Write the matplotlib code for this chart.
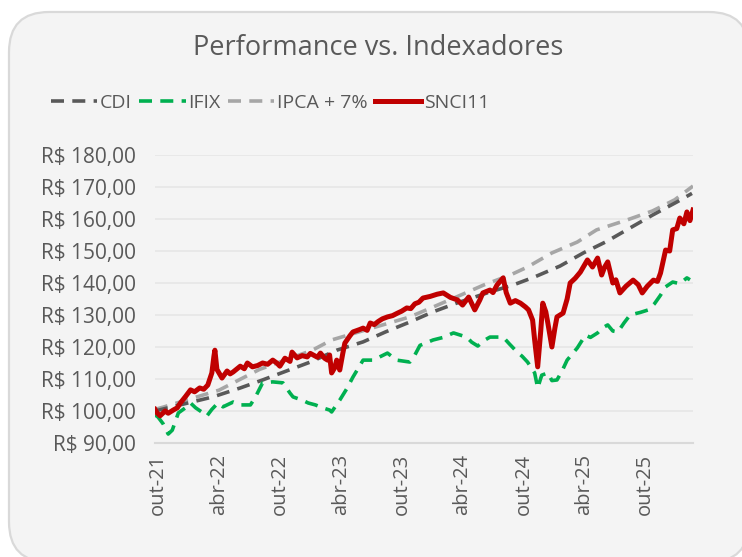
import matplotlib
matplotlib.use("Agg")
import matplotlib.pyplot as plt
from matplotlib.patches import FancyBboxPatch
from matplotlib.transforms import IdentityTransform

plt.rcParams['font.family'] = ['Open Sans', 'DejaVu Sans']

# x = months since out-21
cdi_x = [-0.3, 5.4, 8.1, 10.3, 15.0, 17.6, 20.2, 22.4, 24.8, 27.1, 29.4, 32.7,
         35.0, 37.1, 39.6, 41.9, 44.2, 46.5, 48.7, 51.1, 52.6]
cdi_y = [100.0, 104.4, 107.2, 109.7, 115.3, 119.0, 121.6, 124.7, 127.8, 131.0, 133.7, 137.2,
         139.4, 141.9, 145.3, 149.4, 153.0, 157.2, 161.2, 165.3, 168.0]

ipca_x = [-0.3, 0.5, 6.0, 10.0, 15.2, 17.1, 24.8, 27.1, 29.8, 32.1, 34.7, 36.4,
          38.8, 41.3, 43.2, 46.2, 48.7, 50.9, 52.7]
ipca_y = [100.5, 101.2, 106.5, 113.0, 119.0, 122.2, 129.4, 132.5, 136.2, 139.4, 142.5, 145.0,
          149.4, 152.8, 156.6, 159.7, 162.5, 166.0, 170.3]

ifix_x = [-0.3, 0.0, 0.5, 1.0, 1.4, 2.0, 2.7, 3.2, 3.7, 4.3, 4.8, 5.3, 5.9, 6.4, 7.4, 8.1,
          9.1, 9.6, 10.3, 11.3, 12.3, 13.0, 13.3, 14.2, 14.8, 15.5, 16.2, 16.9, 17.1, 17.9,
          18.6, 19.2, 20.2, 21.2, 21.9, 22.6, 23.5, 24.8, 25.3, 25.8, 27.1, 28.1, 29.1, 30.4,
          30.9, 31.5, 32.1, 32.7, 34.0, 34.6, 35.2, 35.9, 36.4, 37.1, 37.4, 37.8, 38.4, 38.8,
          39.3, 39.8, 40.3, 41.3, 42.1, 42.6, 43.3, 43.8, 44.3, 44.8, 45.3, 45.9, 46.5, 47.5,
          48.3, 48.9, 49.5, 50.0, 50.7, 51.4, 52.1, 52.4]
ifix_y = [98.8, 98.1, 96.0, 92.8, 94.0, 99.4, 101.0, 102.5, 101.0, 99.7, 98.4, 100.5, 102.5,
          101.3, 102.8, 101.9, 101.9, 104.4, 108.8, 109.1, 108.8, 105.6, 104.4, 103.4, 102.5,
          101.9, 101.0, 100.3, 99.7, 103.4, 107.0, 110.6, 115.9, 115.9, 117.0, 118.1, 115.9,
          115.3, 117.5, 120.5, 122.2, 123.0, 124.4, 123.1, 121.5, 120.3, 122.0, 123.1, 123.1,
          121.0, 119.0, 117.0, 115.3, 111.9, 107.2, 111.2, 111.9, 109.5, 109.7, 112.5, 115.9,
          119.7, 123.7, 123.0, 124.4, 126.0, 126.9, 125.0, 124.7, 127.5, 130.0, 130.8, 131.6,
          133.5, 136.2, 138.8, 140.3, 139.8, 141.6, 141.0]

sn_x = [-0.3, -0.1, 0.2, 0.7, 1.0, 1.5, 1.9, 2.2, 2.7, 3.2, 3.6, 4.1, 4.5, 4.9, 5.3, 5.5,
        5.6, 5.8, 6.3, 6.8, 7.1, 7.4, 8.1, 8.5, 8.8, 9.3, 9.8, 10.3, 10.8, 11.3, 11.7, 12.0,
        12.5, 13.0, 13.2, 13.7, 14.2, 14.7, 15.0, 15.3, 15.7, 16.0, 16.4, 16.7, 16.9, 17.1,
        17.4, 17.6, 17.9, 18.2, 18.4, 18.9, 19.2, 19.9, 20.2, 20.6, 20.9, 21.3, 21.7, 22.1,
        22.6, 23.1, 23.6, 24.0, 24.5, 24.9, 25.3, 25.7, 26.1, 26.8, 27.5, 28.1, 28.8, 29.5,
        30.0, 30.6, 31.2, 31.7, 32.0, 32.7, 33.0, 33.4, 34.0, 34.3, 34.7, 35.2, 35.7, 36.2,
        36.5, 36.9, 37.1, 37.4, 37.7, 37.9, 38.2, 38.4, 38.8, 39.1, 39.3, 39.9, 40.3, 40.6,
        41.1, 41.6, 42.3, 42.8, 43.3, 43.7, 44.0, 44.3, 44.8, 45.1, 45.5, 46.1, 46.8, 47.3,
        47.7, 48.2, 48.8, 49.2, 49.5, 50.0, 50.4, 50.7, 51.1, 51.4, 51.8, 52.1, 52.4, 52.7]
sn_y = [100.5, 99.4, 98.5, 100.0, 99.3, 100.3, 101.0, 102.5, 104.5, 106.6, 106.0, 107.2,
        106.8, 108.1, 111.9, 117.0, 119.0, 113.0, 110.3, 112.5, 111.6, 112.2, 114.0, 113.2,
        115.0, 113.8, 114.2, 115.0, 114.6, 115.9, 115.0, 114.0, 116.5, 115.5, 118.4, 116.6,
        117.3, 116.9, 118.0, 117.5, 116.8, 118.1, 116.5, 115.9, 117.5, 111.9, 113.5, 115.9,
        112.8, 118.0, 121.2, 123.5, 124.7, 125.5, 125.9, 125.2, 127.5, 127.0, 128.0, 128.8,
        129.4, 129.8, 130.6, 131.2, 132.2, 132.0, 133.5, 134.0, 135.3, 135.8, 136.5, 136.9,
        135.5, 134.7, 133.1, 135.6, 131.6, 134.7, 136.9, 137.8, 137.0, 139.4, 141.6, 137.0,
        133.7, 134.5, 133.7, 132.5, 131.6, 128.4, 122.2, 113.8, 125.0, 133.7, 131.0, 127.5,
        120.0, 126.0, 129.4, 130.6, 135.0, 140.0, 141.5, 143.4, 147.2, 145.0, 147.8, 142.5,
        145.0, 146.6, 140.0, 141.0, 136.9, 139.0, 140.9, 139.5, 136.9, 139.0, 140.9, 140.5,
        143.1, 150.3, 150.0, 156.6, 157.0, 160.3, 158.5, 162.2, 159.5, 162.8]

tick_pos = [0, 6, 12, 18, 24, 30, 36, 42, 48]
tick_lbl = ['out-21', 'abr-22', 'out-22', 'abr-23', 'out-23', 'abr-24', 'out-24', 'abr-25', 'out-25']
y_ticks = list(range(90, 181, 10))

txt = '#595959'
W, H = 742, 557
fig = plt.figure(figsize=(W / 100, H / 100), dpi=100)
fig.patch.set_facecolor('white')

# rounded background card
card = FancyBboxPatch((9, -5), 740, H - 12 + 5, boxstyle='round,pad=0,rounding_size=40',
                      transform=IdentityTransform(), facecolor='#f4f4f4',
                      edgecolor='#d9d9d9', linewidth=1.6, zorder=-10)
fig.patches.append(card)

ax = fig.add_axes([155 / W, 1 - 443 / H, (693 - 155) / W, (443 - 155) / H])
ax.set_facecolor('none')

dash = (3.6, 2.3)
ax.plot(cdi_x, cdi_y, color='#595959', lw=2.6, dashes=dash, label='CDI', zorder=3)
ax.plot(ifix_x, ifix_y, color='#00b050', lw=2.6, dashes=dash, label='IFIX', zorder=3)
ax.plot(ipca_x, ipca_y, color='#a6a6a6', lw=2.6, dashes=dash, label='IPCA + 7%', zorder=2)
ax.plot(sn_x, sn_y, color='#c00000', lw=3.6, label='SNCI11', zorder=4, solid_joinstyle='round')

ax.set_xlim(-0.3, 52.7)
ax.set_ylim(90, 180)
ax.set_yticks(y_ticks)
ax.set_yticklabels(['R$ %d,00' % v for v in y_ticks], fontsize=15, color=txt)
ax.set_xticks(tick_pos)
ax.set_xticklabels(tick_lbl, rotation=90, fontsize=14.5, color=txt)
ax.tick_params(length=0, pad=14, axis='y')
ax.tick_params(length=0, pad=8, axis='x')
ax.grid(axis='y', color='#e6e6e6', lw=1.2)
for s in ['top', 'right', 'left']:
    ax.spines[s].set_visible(False)
ax.spines['bottom'].set_color('#d9d9d9')
ax.spines['bottom'].set_linewidth(1.5)
ax.set_axisbelow(True)

fig.text(378 / W, 1 - 48 / H, 'Performance vs. Indexadores', ha='center', va='center',
         fontsize=19.5, color=txt)

leg = fig.legend(loc='center', bbox_to_anchor=(270 / W, 1 - 103 / H), ncol=4, frameon=False,
                 fontsize=14, handlelength=2.4, handletextpad=0.15, columnspacing=0.35,
                 labelcolor=txt)

plt.savefig('out.png', dpi=100)
